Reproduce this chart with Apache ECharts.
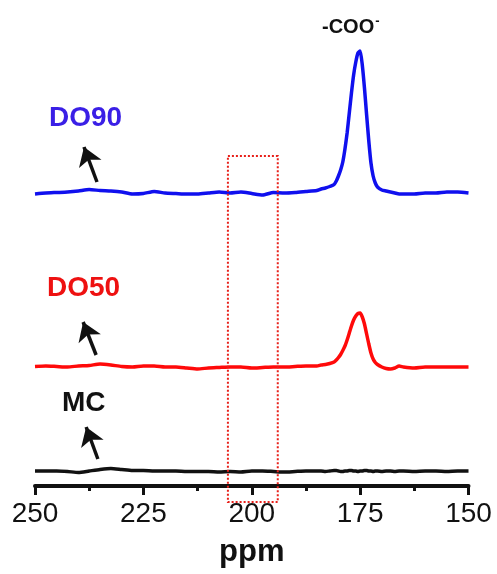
<!DOCTYPE html>
<html>
<head>
<meta charset="utf-8">
<script src="https://cdn.jsdelivr.net/npm/echarts@6/dist/echarts.min.js"></script>
<style>
  html, body { margin: 0; padding: 0; background: #fff; }
  #chart { width: 497px; height: 574px; }
</style>
</head>
<body>
<div id="chart"></div>
<script>
// chemical shift grid (ppm), finer around the carboxylate peak
const ppm = [
  250, 247.5, 245, 242.5, 240, 237.5, 235, 232.5, 230, 227.5,
  225, 222.5, 220, 217.5, 215, 212.5, 210, 207.5, 205, 202.5,
  200, 197.5, 195, 192.5, 190, 187.5, 185,
  184, 183, 182, 181,
  180.5, 180, 179.5, 179, 178.5, 178, 177.5, 177, 176.5, 176,
  175.5, 175, 174.5, 174, 173.5, 173, 172.5, 172, 171.5, 171,
  170, 169, 168, 167, 166,
  165, 162.5, 160, 157.5, 155, 152.5, 150
]

// intensities (a.u.)
const mc = [
  0, 0, 0, -0.5, -1.5, 0, 1.5, 2.5, 1.5, 0.5,
  0.5, 0, 0, 0, -0.5, -0.5, -0.5, -1, -0.5, -1,
  0, 0, -0.5, -1, -0.5, 0, 0,
  0, -0.5, 0, 0.5,
  0.5, 0, -0.5, -0.5, 0, 0, 0.5, 0.5, 0, 0,
  -0.5, 0, 0, 0.5, 0.5, 0, 0, -0.5, 0, 0,
  -0.5, 0, 0, -0.5, 0,
  0, -0.5, 0, 0, -0.5, 0, 0
]
const do50 = [
  0.5, 1, 0.5, 0, 1, 1.5, 3, 2, 0.5, 0,
  1, 1, 0, 0, -1, -2, -1, -0.5, 0, 0,
  -1, -0.5, 0, 0, 0.5, 1, 1,
  2, 2.5, 3.5, 5,
  7, 9.5, 12.5, 16.5, 21, 27, 34, 41, 47, 51,
  53.5, 54, 50, 43, 33, 23, 14, 8, 4.5, 2.5,
  0, -1.5, -2, -1, 1,
  0, -1, 0, 0, 0, 0, 0
]
const do90 = [
  -1, 0, 0.5, 1, 2, 3.5, 2.5, 2, 1, -1,
  -0.5, 1.5, 0, -0.5, -1, -1, 0, 1, 0, 1,
  -0.5, -2, 0.5, 0, 0.5, 1.5, 2.5,
  4, 5, 6.5, 8.5,
  12, 17, 23, 31, 44, 60, 80, 100, 118, 131,
  140, 142, 128, 105, 78, 52, 30, 17, 10, 6,
  3, 2, 1, 0, -1,
  -1, -1, 0, 0, 1, 1, 0
]

// vertical stacking of the traces
const baseMC = 15
const baseDO50 = 119
const baseDO90 = 293

// arrows: [tail, tip] in [ppm, a.u.]
const arrowMC = [[235.5, 27], [238.2, 59]]
const arrowDO50 = [[235.9, 131], [238.9, 164]]
const arrowDO90 = [[235.7, 304], [238.7, 339]]

// highlighted region (ppm)
const boxRange = [205.5, 194]

const FONT = 'Arial, "Liberation Sans", Helvetica, sans-serif'

function stack (vals, base) {
  return ppm.map(function (x, i) { return [x, vals[i] + base] })
}

function arrow (pts) {
  return {
    silent: true,
    symbol: ['none', 'arrow'],
    symbolSize: 18,
    label: { show: false },
    lineStyle: { color: '#111', width: 3.5, type: 'solid' },
    data: [[{ coord: pts[0] }, { coord: pts[1] }]]
  }
}

function trace (name, vals, base, color, pts) {
  return {
    name: name,
    type: 'line',
    data: stack(vals, base),
    showSymbol: false,
    smooth: 0.2,
    lineStyle: { color: color, width: 3.5 },
    markLine: arrow(pts)
  }
}

let myChart = echarts.init(document.getElementById('chart'))
myChart.setOption({
  animation: false,
  grid: { left: 35, right: 28.5, top: 40, bottom: 88 },
  xAxis: {
    type: 'value',
    inverse: true,
    min: 150,
    max: 250,
    interval: 25,
    name: 'ppm',
    nameLocation: 'middle',
    nameGap: 51,
    nameTextStyle: { fontFamily: FONT, fontSize: 31, fontWeight: 'bold', color: '#111' },
    axisLine: { onZero: false, lineStyle: { color: '#111', width: 4 } },
    axisTick: { length: 9, lineStyle: { color: '#111', width: 3 } },
    minorTick: { show: true, splitNumber: 2, length: 5, lineStyle: { color: '#111', width: 3 } },
    splitLine: { show: false },
    axisLabel: { fontFamily: FONT, fontSize: 28, color: '#111', margin: 14 }
  },
  yAxis: {
    type: 'value',
    show: false,
    min: 0,
    max: 446
  },
  series: [
    trace('MC', mc, baseMC, '#111111', arrowMC),
    trace('DO50', do50, baseDO50, '#ff0a0a', arrowDO50),
    trace('DO90', do90, baseDO90, '#1010ee', arrowDO90)
  ]
})

// annotations: labels and dotted box
const x1 = myChart.convertToPixel({ xAxisIndex: 0 }, boxRange[0])
const x2 = myChart.convertToPixel({ xAxisIndex: 0 }, boxRange[1])
myChart.setOption({
  graphic: [
    { type: 'text', x: 49, y: 118, style: { text: 'DO90', font: 'bold 28px ' + FONT, fill: '#3a1fe6', verticalAlign: 'middle' } },
    { type: 'text', x: 47, y: 288, style: { text: 'DO50', font: 'bold 28px ' + FONT, fill: '#ee1111', verticalAlign: 'middle' } },
    { type: 'text', x: 62, y: 403, style: { text: 'MC', font: 'bold 28px ' + FONT, fill: '#111', verticalAlign: 'middle' } },
    {
      type: 'text',
      x: 322,
      y: 27,
      style: {
        text: '-COO{sup|-}',
        font: 'bold 20px ' + FONT,
        fill: '#111',
        verticalAlign: 'middle',
        rich: { sup: { fontSize: 13, fontWeight: 'bold', fontFamily: FONT, verticalAlign: 'top', padding: [0, 0, 12, 1] } }
      }
    },
    {
      type: 'rect',
      silent: true,
      shape: { x: x1, y: 156, width: x2 - x1, height: 346 },
      style: { fill: 'none', stroke: '#e8201a', lineWidth: 2, lineDash: [2, 2] },
      z: 10
    }
  ]
})
</script>
</body>
</html>
